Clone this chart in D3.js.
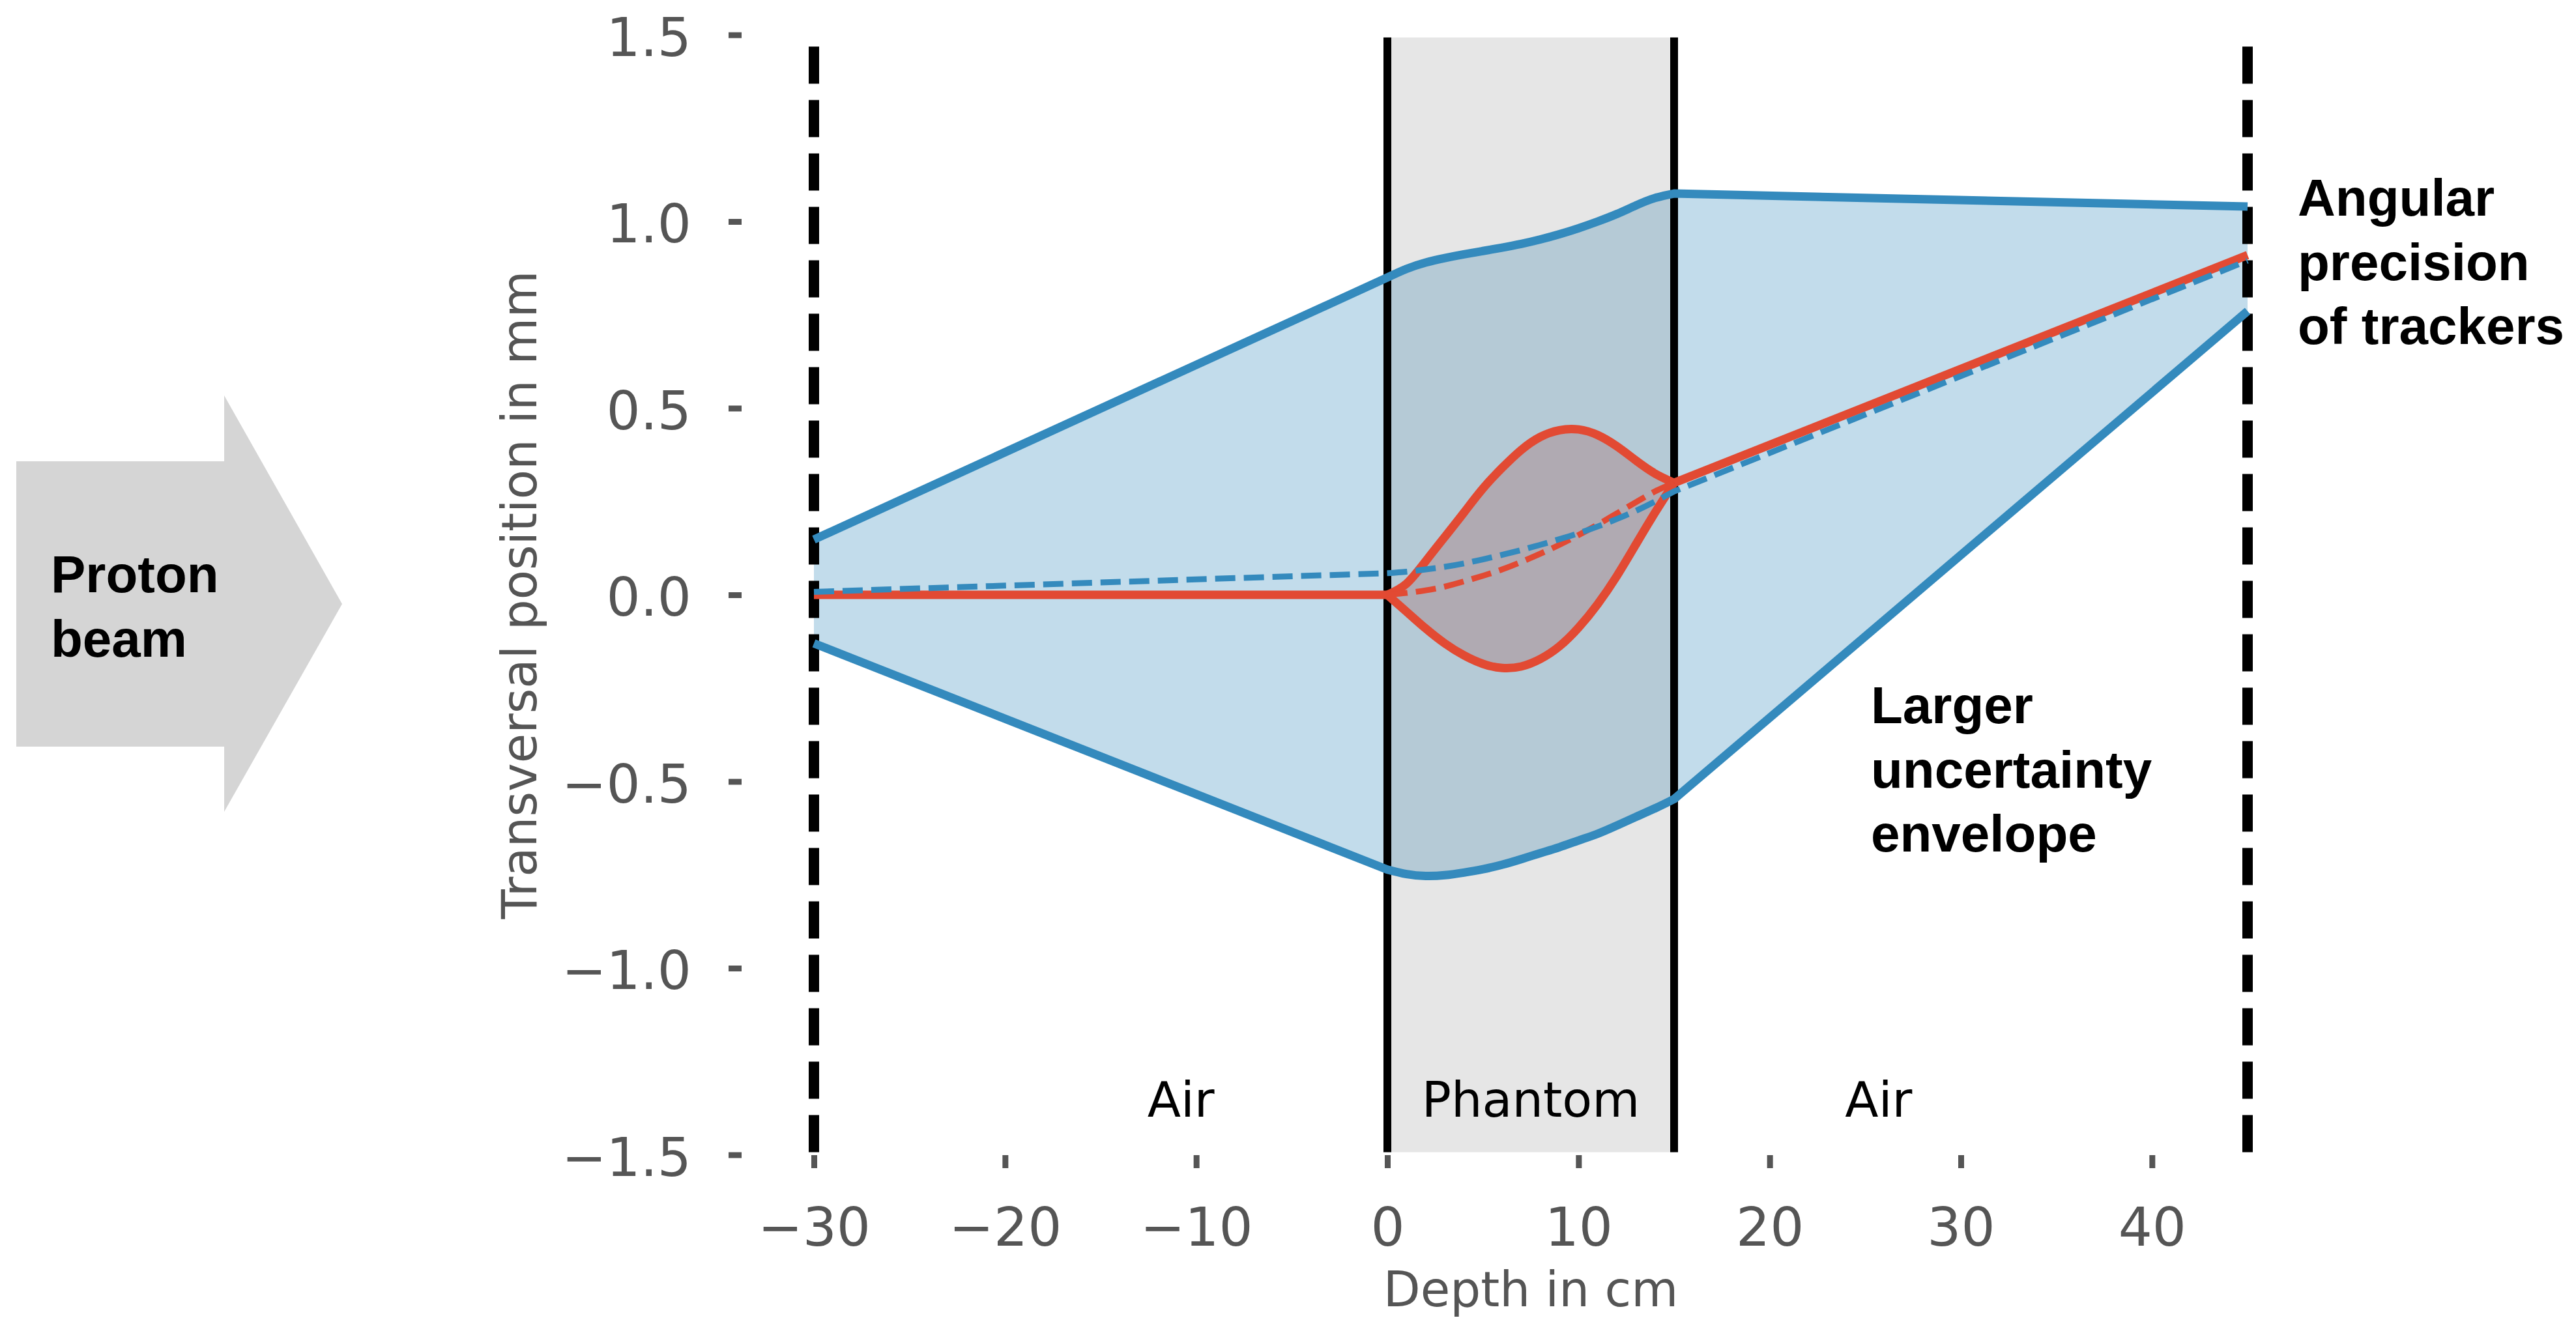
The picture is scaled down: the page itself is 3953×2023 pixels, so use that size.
<!DOCTYPE html>
<html><head><meta charset="utf-8">
<script src="https://cdn.jsdelivr.net/npm/d3@7"></script>
<style>html,body{margin:0;padding:0;background:#fff;} svg{display:block;}</style>
</head><body>
<svg id="chart" width="3953" height="2023"></svg>
<script>
// ---------- data ----------
const depthTicks = [-30, -20, -10, 0, 10, 20, 30, 40];
const posTicks = [-1.5, -1.0, -0.5, 0.0, 0.5, 1.0, 1.5];
const xDomain = [-33.75, 48.75];
const yDomain = [-1.5, 1.5];

// depth samples: air in front, inside the phantom, air behind
const envDepth = [-30, 0, 1, 2, 3, 4, 5, 6, 7, 8, 9, 10, 11, 12, 13, 14, 15, 45];
const phantomDepth = [0, 1, 2, 3, 4, 5, 6, 7, 8, 9, 10, 11, 12, 13, 14, 15];

// uncertainty envelope (blue band)
const envUpper = [0.148, 0.85, 0.873, 0.89, 0.902, 0.912, 0.921, 0.93, 0.94, 0.952, 0.966, 0.982, 1.0, 1.02, 1.043, 1.063, 1.075, 1.04];
const envLower = [-0.13, -0.736, -0.748, -0.753, -0.751, -0.744, -0.735, -0.723, -0.708, -0.692, -0.676, -0.658, -0.64, -0.618, -0.595, -0.572, -0.547, 0.76];

// blue dashed path
const bluePath = [0.008, 0.058, 0.062, 0.068, 0.075, 0.084, 0.095, 0.107, 0.12, 0.134, 0.149, 0.165, 0.183, 0.203, 0.225, 0.25, 0.277, 0.895];

// red lens inside the phantom
const lensUpper = [0, 0.03, 0.09, 0.155, 0.22, 0.285, 0.34, 0.388, 0.423, 0.441, 0.443, 0.428, 0.398, 0.36, 0.325, 0.30];
const lensLower = [0, -0.045, -0.09, -0.13, -0.162, -0.185, -0.196, -0.192, -0.172, -0.138, -0.088, -0.025, 0.05, 0.135, 0.22, 0.30];

// red dashed path inside the phantom
const redDash = [0, 0.005, 0.012, 0.022, 0.036, 0.051, 0.068, 0.088, 0.11, 0.134, 0.16, 0.188, 0.218, 0.248, 0.277, 0.30];

// red solid trajectory in air
const redInDepth = [-30, 0];
const redInPos = [0, 0];
const redOutDepth = [15, 45];
const redOutPos = [0.30, 0.91];

// boundaries
const trackerDepths = [-30, 45];
const phantomEdges = [0, 15];
const boundaryExtent = [-1.493, 1.493];

const regionLabels = ["Air", "Phantom", "Air"];
const regionLabelDepth = [-10.8, 7.5, 25.7];
const regionLabelPos = -1.398;

// ---------- drawing ----------
const BLUE = "#348ABD", RED = "#E24A33", GREY = "#555555";
const svg = d3.select("#chart");
svg.append("rect").attr("width", 3953).attr("height", 2023).attr("fill", "#fff");

const x = d3.scaleLinear().domain(xDomain).range([1139, 3559]);
const y = d3.scaleLinear().domain(yDomain).range([1772.5, 53.5]);

// path builder: straight segments in air, smooth curve inside the phantom
function segPath(depths, vals, reverse, continuing) {
  const pts = depths.map((d, i) => [d, vals[i]]);
  const runs = [];
  let cur = [pts[0]];
  for (let i = 1; i < pts.length; i++) {
    cur.push(pts[i]);
    if (phantomEdges.includes(pts[i][0]) && i < pts.length - 1) { runs.push(cur); cur = [pts[i]]; }
  }
  runs.push(cur);
  const ordered = reverse ? runs.slice().reverse().map(r => r.slice().reverse()) : runs;
  let s = "";
  ordered.forEach((r, k) => {
    const ds = r.map(p => p[0]);
    const inside = Math.min(...ds) >= phantomEdges[0] && Math.max(...ds) <= phantomEdges[1] && r.length > 2;
    const gen = d3.line().x(p => x(p[0])).y(p => y(p[1]))
      .curve(inside ? d3.curveNatural : d3.curveLinear);
    let str = gen(r);
    if (k > 0 || continuing) str = "L" + str.slice(1);
    s += str;
  });
  return s;
}

// proton beam arrow (decoration outside plot)
const arrow = [[25,708],[344,708],[344,607],[525,927],[344,1246],[344,1146],[25,1146]];
svg.append("polygon").attr("points", arrow.map(p => p.join(",")).join(" ")).attr("fill", "#d5d5d5");
const beamText = svg.append("text").attr("font-family", "'Liberation Sans', Arial, Helvetica, sans-serif")
  .attr("font-weight", "bold").attr("font-size", 80).attr("fill", "#000");
beamText.append("tspan").attr("x", 78).attr("y", 909).text("Proton");
beamText.append("tspan").attr("x", 78).attr("y", 1008).text("beam");

// red lens fill
svg.append("path")
  .attr("d", segPath(phantomDepth, lensUpper, false, false) + segPath(phantomDepth, lensLower, true, true) + "Z")
  .attr("fill", RED).attr("fill-opacity", 0.3);

// blue envelope fill
svg.append("path")
  .attr("d", segPath(envDepth, envUpper, false, false) + segPath(envDepth, envLower, true, true) + "Z")
  .attr("fill", BLUE).attr("fill-opacity", 0.3);

// phantom
svg.append("rect")
  .attr("x", x(phantomEdges[0])).attr("width", x(phantomEdges[1]) - x(phantomEdges[0]))
  .attr("y", y(boundaryExtent[1])).attr("height", y(boundaryExtent[0]) - y(boundaryExtent[1]))
  .attr("fill", "rgb(128,128,128)").attr("fill-opacity", 0.2);

// phantom edges
svg.selectAll("line.edge").data(phantomEdges).join("line").attr("class", "edge")
  .attr("x1", d => x(d)).attr("x2", d => x(d))
  .attr("y1", y(boundaryExtent[0])).attr("y2", y(boundaryExtent[1]))
  .attr("stroke", "#000").attr("stroke-width", 12);

// tracker planes (dashed, drawn bottom to top)
svg.selectAll("line.tracker").data(trackerDepths).join("line").attr("class", "tracker")
  .attr("x1", d => x(d)).attr("x2", d => x(d))
  .attr("y1", y(boundaryExtent[0])).attr("y2", y(boundaryExtent[1]))
  .attr("stroke", "#000").attr("stroke-width", 16).attr("stroke-dasharray", "57,25");

// axes
const xAxis = d3.axisBottom(x).tickValues(depthTicks).tickSize(20).tickPadding(61).tickFormat(d3.format("d"));
const gx = svg.append("g").attr("transform", "translate(0,1773)").call(xAxis);
const yAxis = d3.axisLeft(y).tickValues(posTicks).tickSize(20).tickPadding(57).tickFormat(d3.format(".1f"));
const gy = svg.append("g").attr("transform", "translate(1138,0)").call(yAxis);
[gx, gy].forEach(g => {
  g.select(".domain").remove();
  g.selectAll(".tick line").attr("stroke", GREY).attr("stroke-width", 9);
  g.selectAll(".tick text").attr("fill", GREY).attr("font-size", 82)
    .attr("font-family", "'DejaVu Sans', sans-serif");
});
gy.selectAll(".tick text").attr("dy", "0.385em");

svg.append("text").attr("x", (x.range()[0] + x.range()[1]) / 2).attr("y", 2005)
  .attr("text-anchor", "middle").attr("font-family", "'DejaVu Sans', sans-serif")
  .attr("font-size", 74).attr("fill", GREY).text("Depth in cm");
svg.append("text").attr("transform", `translate(823,${(y.range()[0] + y.range()[1]) / 2}) rotate(-90)`)
  .attr("text-anchor", "middle").attr("font-family", "'DejaVu Sans', sans-serif")
  .attr("font-size", 74).attr("fill", GREY).text("Transversal position in mm");

// region labels
svg.selectAll("text.region").data(regionLabels).join("text").attr("class", "region")
  .attr("x", (d, i) => x(regionLabelDepth[i])).attr("y", y(regionLabelPos))
  .attr("text-anchor", "middle").attr("font-family", "'DejaVu Sans', sans-serif")
  .attr("font-size", 75).attr("fill", "#000").text(d => d);

// lines
function drawLine(depths, vals, color, w, dash) {
  const p = svg.append("path").attr("d", segPath(depths, vals, false, false)).attr("fill", "none")
    .attr("stroke", color).attr("stroke-width", w).attr("stroke-linejoin", "round").attr("stroke-linecap", "butt");
  if (dash) p.attr("stroke-dasharray", dash);
}
drawLine(envDepth, envUpper, BLUE, 13);
drawLine(envDepth, envLower, BLUE, 13);
drawLine(redInDepth, redInPos, RED, 13);
drawLine(phantomDepth, lensUpper, RED, 13);
drawLine(phantomDepth, lensLower, RED, 13);
drawLine(redOutDepth, redOutPos, RED, 13);
drawLine(phantomDepth, redDash, RED, 9, "31,13");
drawLine(envDepth, bluePath, BLUE, 9, "31,13");

// annotations
const ann = [
  {x: 3526, y0: 331, lines: ["Angular", "precision", "of trackers"]},
  {x: 2871, y0: 1110, lines: ["Larger", "uncertainty", "envelope"]}
];
ann.forEach(a => {
  const t = svg.append("text").attr("font-family", "'Liberation Sans', Arial, Helvetica, sans-serif")
    .attr("font-weight", "bold").attr("font-size", 80).attr("fill", "#000");
  a.lines.forEach((s, i) => t.append("tspan").attr("x", a.x).attr("y", a.y0 + i * 98.5).text(s));
});
</script>
</body></html>
